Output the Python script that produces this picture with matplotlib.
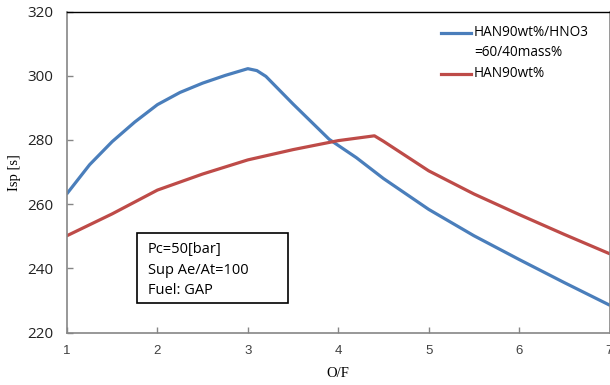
import matplotlib
matplotlib.use("Agg")
import matplotlib.pyplot as plt
from matplotlib.lines import Line2D

# O/F vs Isp
of_mix = [1.0, 1.25, 1.5, 1.75, 2.0, 2.25, 2.5, 2.75, 3.0, 3.1, 3.2, 3.5, 3.9, 4.2, 4.5, 5.0, 5.5, 6.0, 6.5, 7.0]
isp_mix = [263.3, 272.3, 279.5, 285.6, 291.0, 294.8, 297.7, 300.1, 302.2, 301.6, 299.8, 291.2, 280.2, 274.5, 268.0, 258.4, 250.2, 242.8, 235.6, 228.6]

of_han = [1.0, 1.5, 2.0, 2.5, 3.0, 3.5, 4.0, 4.4, 4.5, 5.0, 5.5, 6.0, 6.5, 7.0]
isp_han = [250.2, 257.0, 264.4, 269.4, 273.8, 277.0, 279.8, 281.3, 279.6, 270.4, 263.2, 256.8, 250.6, 244.6]

label_mix = "HAN90wt%/HNO3\n=60/40mass%"
label_han = "HAN90wt%"
x_ticks = [1, 2, 3, 4, 5, 6, 7]
y_ticks = [220, 240, 260, 280, 300, 320]
note = "Pc=50[bar]\nSup Ae/At=100\nFuel: GAP"

blue = "#4a7ebb"
red = "#be4b48"

W, H = 610, 385
fig = plt.figure(figsize=(W / 100, H / 100), dpi=100)
ax = fig.add_axes([67 / W, 1 - 332.7 / H, (609.5 - 67) / W, (332.7 - 11.5) / H])

ax.plot(of_mix, isp_mix, color=blue, lw=2.3, solid_capstyle="round")
ax.plot(of_han, isp_han, color=red, lw=2.3, solid_capstyle="round")

ax.set_xlim(1, 7)
ax.set_ylim(220, 320)
ax.set_xticks(x_ticks)
ax.set_yticks(y_ticks)
ax.tick_params(direction="in", length=4, width=1, color="#868686")
ax.tick_params(axis="y", pad=10, labelsize=11, labelcolor="#222222")
ax.tick_params(axis="x", pad=9, labelsize=9.5, labelcolor="#404040")
for lab in ax.get_yticklabels():
    lab.set_family("Open Sans")
for lab in ax.get_xticklabels():
    lab.set_family("Liberation Sans")

for side in ["left", "bottom", "right"]:
    ax.spines[side].set_color("#868686")
    ax.spines[side].set_linewidth(1.2)
ax.spines["top"].set_color("black")
ax.spines["top"].set_linewidth(1.0)

ax.set_xlabel("O/F", family="Liberation Serif", fontsize=10.5, labelpad=7)
ax.set_ylabel("Isp [s]", family="Liberation Serif", fontsize=10.5, labelpad=4)

# legend drawn by hand so the line sits on the first text row
fig.add_artist(Line2D([441 / W, 471 / W], [1 - 32.5 / H] * 2, color=blue, lw=2.3))
fig.add_artist(Line2D([441 / W, 471 / W], [1 - 73.5 / H] * 2, color=red, lw=2.3))
for i, row in enumerate(label_mix.split("\n")):
    fig.text(474 / W, 1 - (33 + 20 * i) / H, row, family="Open Sans",
             fontsize=9.8, va="center", ha="left")
fig.text(474 / W, 1 - 73.5 / H, label_han, family="Open Sans", fontsize=9.8,
         va="center", ha="left")

# condition box
fig.text(148 / W, 1 - 270.5 / H, note, family="Open Sans", fontsize=10.5,
         va="center", ha="left", linespacing=1.5)
fig.add_artist(plt.Rectangle((137 / W, 1 - 303 / H), (288 - 137) / W, (303 - 232.7) / H,
                             transform=fig.transFigure, fill=False, ec="black", lw=1.2))

fig.savefig("out.png", dpi=100)
